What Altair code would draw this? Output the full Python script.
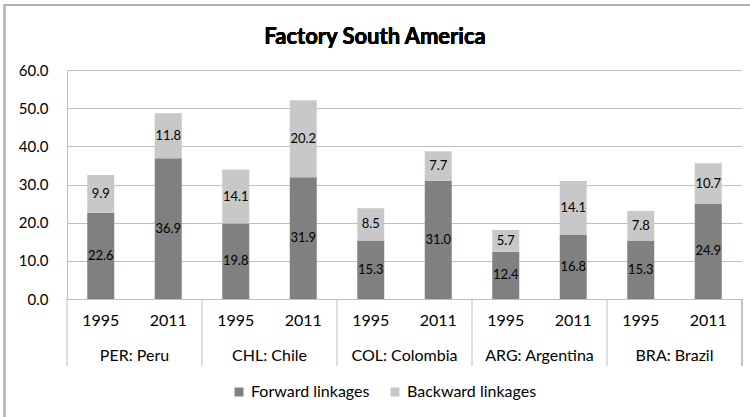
import altair as alt
import pandas as pd

# Country groups and years along the category axis
countries = ["PER: Peru", "CHL: Chile", "COL: Colombia", "ARG: Argentina", "BRA: Brazil"]
years = ["1995", "2011"]

# Linkage shares per country, in the order 1995, 2011
forward = {
    "PER: Peru": [22.6, 36.9],
    "CHL: Chile": [19.8, 31.9],
    "COL: Colombia": [15.3, 31.0],
    "ARG: Argentina": [12.4, 16.8],
    "BRA: Brazil": [15.3, 24.9],
}
backward = {
    "PER: Peru": [9.9, 11.8],
    "CHL: Chile": [14.1, 20.2],
    "COL: Colombia": [8.5, 7.7],
    "ARG: Argentina": [5.7, 14.1],
    "BRA: Brazil": [7.8, 10.7],
}

series_names = ["Forward linkages", "Backward linkages"]
series_colors = ["#808080", "#c8c8c8"]
y_ticks = [0, 10, 20, 30, 40, 50, 60]
title_text = "Factory South America"

rows = []
for c in countries:
    for i, yr in enumerate(years):
        key = f"{c}|{yr}"
        rows.append({"cat": key, "country": c, "year": yr,
                     "series": series_names[0], "order": 0, "value": forward[c][i]})
        rows.append({"cat": key, "country": c, "year": yr,
                     "series": series_names[1], "order": 1, "value": backward[c][i]})
df = pd.DataFrame(rows)
cat_order = [f"{c}|{y}" for c in countries for y in years]

group_df = pd.DataFrame({"cat": [f"{c}|{years[0]}" for c in countries], "country": countries})

FONT = "Lato"
W, H = 675, 229
GRID = "#bfbfbf"

xscale = alt.Scale(domain=cat_order, paddingInner=0, paddingOuter=0)
yscale = alt.Scale(domain=[0, 60], nice=False)

x_axis = alt.Axis(title=None, labelExpr="split(datum.value, '|')[1]",
                  labelAngle=0, ticks=False, domain=False, grid=False,
                  labelFontSize=16, labelPadding=13, labelColor="#000000",
                  labelFont=FONT)
y_axis = alt.Axis(title=None, values=y_ticks, format=".1f", labelOverlap=False,
                  ticks=False, domainColor=GRID, gridColor=GRID, grid=True,
                  labelFontSize=15, labelPadding=19, labelColor="#000000",
                  labelFont=FONT)

base = alt.Chart(df)

bars = base.mark_bar(size=27).encode(
    x=alt.X("cat:N", scale=xscale, sort=cat_order, axis=x_axis),
    y=alt.Y("value:Q", stack="zero", scale=yscale, axis=y_axis),
    color=alt.Color("series:N", scale=alt.Scale(domain=series_names, range=series_colors),
                    legend=alt.Legend(title=None, orient="none", direction="horizontal",
                                      legendX=164, legendY=314, symbolType="square",
                                      symbolSize=81, symbolStrokeWidth=0,
                                      labelFontSize=16, labelFont=FONT, labelColor="#000000",
                                      columnPadding=17, labelOffset=4)),
    order=alt.Order("order:Q"),
)

labels = base.transform_stack(
    stack="value", groupby=["cat"], sort=[alt.SortField("order")], as_=["v0", "v1"]
).transform_calculate(
    mid="(datum.v0 + datum.v1) / 2",
    txt="format(datum.value, '.1f')",
).mark_text(font=FONT, fontSize=13, color="#000000", baseline="middle").encode(
    x=alt.X("cat:N", scale=xscale, sort=cat_order, axis=x_axis),
    y=alt.Y("mid:Q", scale=yscale, axis=y_axis),
    text="txt:N",
)

# Group separators below the plot and country names between them
seps = alt.Chart(group_df).mark_rule(color=GRID, strokeWidth=1).encode(
    x=alt.X("cat:N", scale=xscale, sort=cat_order, bandPosition=0, axis=x_axis),
    y=alt.value(H), y2=alt.value(H + 67),
)
last_sep = alt.Chart(group_df).mark_rule(color=GRID, strokeWidth=1).encode(
    x=alt.datum(cat_order[-1], type="nominal", scale=xscale, bandPosition=1, axis=x_axis),
    y=alt.value(H), y2=alt.value(H + 67),
)
country_labels = alt.Chart(group_df).mark_text(
    font=FONT, fontSize=16, color="#000000", baseline="middle"
).encode(
    x=alt.X("cat:N", scale=xscale, sort=cat_order, bandPosition=1, axis=x_axis),
    y=alt.value(H + 57),
    text="country:N",
)

title = alt.Chart(group_df).mark_text(
    font=FONT, fontSize=22, fontWeight="bold", color="#000000", baseline="middle"
).encode(
    x=alt.value(308), y=alt.value(-33), text=alt.value(title_text),
)

# Outer chart border (its right and bottom edges run past the canvas)
frame = alt.Chart(group_df).mark_rect(fill=None, stroke="#b3b3b3", strokeWidth=1.5).encode(
    x=alt.value(-62.5), x2=alt.value(W + 20), y=alt.value(-65), y2=alt.value(H + 140),
)

chart = alt.layer(bars, labels, seps, last_sep, country_labels, title, frame).properties(
    width=W, height=H,
    padding={"left": 67, "top": 70, "right": 8, "bottom": 118},
    autosize=alt.AutoSizeParams(type="none"),
    background="white",
).configure_view(stroke=None)

chart.save("out.html", embed_options={"renderer": "svg", "actions": False})
